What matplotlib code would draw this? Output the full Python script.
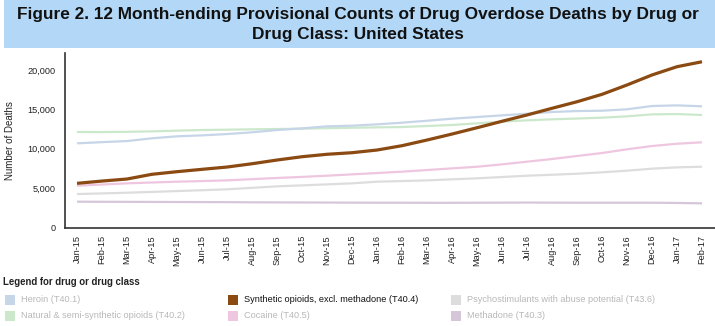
import matplotlib
matplotlib.use('Agg')
import matplotlib.pyplot as plt
from matplotlib.patches import Rectangle

plt.rcParams['font.family'] = ['Liberation Sans', 'DejaVu Sans']

months = ['Jan-15', 'Feb-15', 'Mar-15', 'Apr-15', 'May-15', 'Jun-15', 'Jul-15', 'Aug-15',
          'Sep-15', 'Oct-15', 'Nov-15', 'Dec-15', 'Jan-16', 'Feb-16', 'Mar-16', 'Apr-16',
          'May-16', 'Jun-16', 'Jul-16', 'Aug-16', 'Sep-16', 'Oct-16', 'Nov-16', 'Dec-16',
          'Jan-17', 'Feb-17']

heroin = [10690, 10840, 10980, 11330, 11580, 11700, 11870, 12090, 12380, 12590, 12850, 12930,
          13100, 13310, 13560, 13820, 14030, 14240, 14450, 14670, 14790, 14830, 15010, 15430,
          15510, 15390]
natural = [12130, 12120, 12150, 12210, 12300, 12380, 12420, 12470, 12510, 12550, 12610, 12670,
           12720, 12760, 12890, 13020, 13230, 13440, 13610, 13740, 13840, 13950, 14120, 14370,
           14410, 14290]
synthetic = [5610, 5900, 6160, 6760, 7090, 7390, 7680, 8100, 8570, 8990, 9300, 9500,
             9840, 10390, 11110, 11870, 12670, 13490, 14290, 15140, 15970, 16910, 18100, 19370,
             20420, 21050]
cocaine = [5310, 5460, 5610, 5720, 5820, 5900, 5990, 6140, 6290, 6430, 6580, 6750,
           6920, 7090, 7300, 7510, 7720, 8020, 8360, 8700, 9080, 9460, 9930, 10350,
           10640, 10820]
psychostim = [4250, 4330, 4420, 4520, 4630, 4740, 4850, 5040, 5230, 5350, 5480, 5610,
              5820, 5900, 5990, 6120, 6250, 6410, 6580, 6700, 6830, 7010, 7220, 7470,
              7640, 7720]
methadone = [3280, 3270, 3260, 3250, 3240, 3230, 3220, 3200, 3190, 3180, 3170, 3160,
             3150, 3150, 3140, 3140, 3150, 3160, 3170, 3160, 3150, 3150, 3150, 3150,
             3120, 3070]

yticks = [0, 5000, 10000, 15000, 20000]

# (label, data, colour, width, text colour)
series = [
    ('Heroin (T40.1)', heroin, '#c6d6e8', 1.6, '#b8b8b8'),
    ('Natural & semi-synthetic opioids (T40.2)', natural, '#cce8cc', 1.6, '#b8b8b8'),
    ('Synthetic opioids, excl. methadone (T40.4)', synthetic, '#8b4a12', 2.3, '#111111'),
    ('Cocaine (T40.5)', cocaine, '#efc6df', 1.6, '#b8b8b8'),
    ('Psychostimulants with abuse potential (T43.6)', psychostim, '#dddddd', 1.6, '#b8b8b8'),
    ('Methadone (T40.3)', methadone, '#d6c6da', 1.6, '#b8b8b8'),
]

fig = plt.figure(figsize=(7.15, 3.26), dpi=100)

# title band
fig.patches.append(Rectangle((4 / 715, 1 - 48 / 326), 711 / 715, 48 / 326,
                             transform=fig.transFigure, facecolor='#b3d8f7',
                             edgecolor='none', zorder=0))
fig.text(0.5, 1 - 15 / 326, 'Figure 2. 12 Month-ending Provisional Counts of Drug Overdose Deaths by Drug or',
         ha='center', va='center', fontsize=12.4, fontweight='bold', color='#111111')
fig.text(0.5, 1 - 34 / 326, 'Drug Class: United States',
         ha='center', va='center', fontsize=12.4, fontweight='bold', color='#111111')

ax = fig.add_axes([65 / 715, (326 - 228) / 326, 650 / 715, 175 / 326])
x = list(range(len(months)))
order = [4, 5, 3, 1, 0, 2]
for i in order:
    label, data, color, lw, _ = series[i]
    ax.plot(x, data, color=color, lw=lw, solid_capstyle='butt', zorder=3 if i == 2 else 2)

ax.set_xlim(-0.48, 25.52)
ax.set_ylim(-60, 22160)
ax.set_yticks(yticks)
ax.set_yticklabels([f'{v:,}' for v in yticks])
ax.set_xticks(x)
ax.set_xticklabels(months, rotation=90)
ax.tick_params(axis='both', length=0, labelsize=6.6, colors='#222222')
ax.tick_params(axis='y', pad=7)
ax.tick_params(axis='x', pad=5)
for s in ['top', 'right']:
    ax.spines[s].set_visible(False)
for s in ['left', 'bottom']:
    ax.spines[s].set_color('#333333')
    ax.spines[s].set_linewidth(1.2)
ax.set_ylabel('Number of Deaths', fontsize=7, color='#222222')
ax.yaxis.set_label_coords(-50 / 650, 0.5)

# legend
fig.text(3 / 715, 1 - 282 / 326, 'Legend for drug or drug class', fontsize=6.9,
         fontweight='bold', color='#222222', va='center', ha='left')
col_x = [5, 228, 451]
row_y = [300, 316]
for k, (label, data, color, lw, tcolor) in enumerate(series):
    c = k // 2
    r = k % 2
    sx = col_x[c]
    sy = row_y[r]
    fig.patches.append(Rectangle((sx / 715, 1 - (sy + 5) / 326), 10 / 715, 10 / 326,
                                 transform=fig.transFigure, facecolor=color,
                                 edgecolor='none'))
    fig.text((sx + 16) / 715, 1 - sy / 326, label, fontsize=6.6, color=tcolor,
             va='center', ha='left')

plt.savefig('out.png', dpi=100)
